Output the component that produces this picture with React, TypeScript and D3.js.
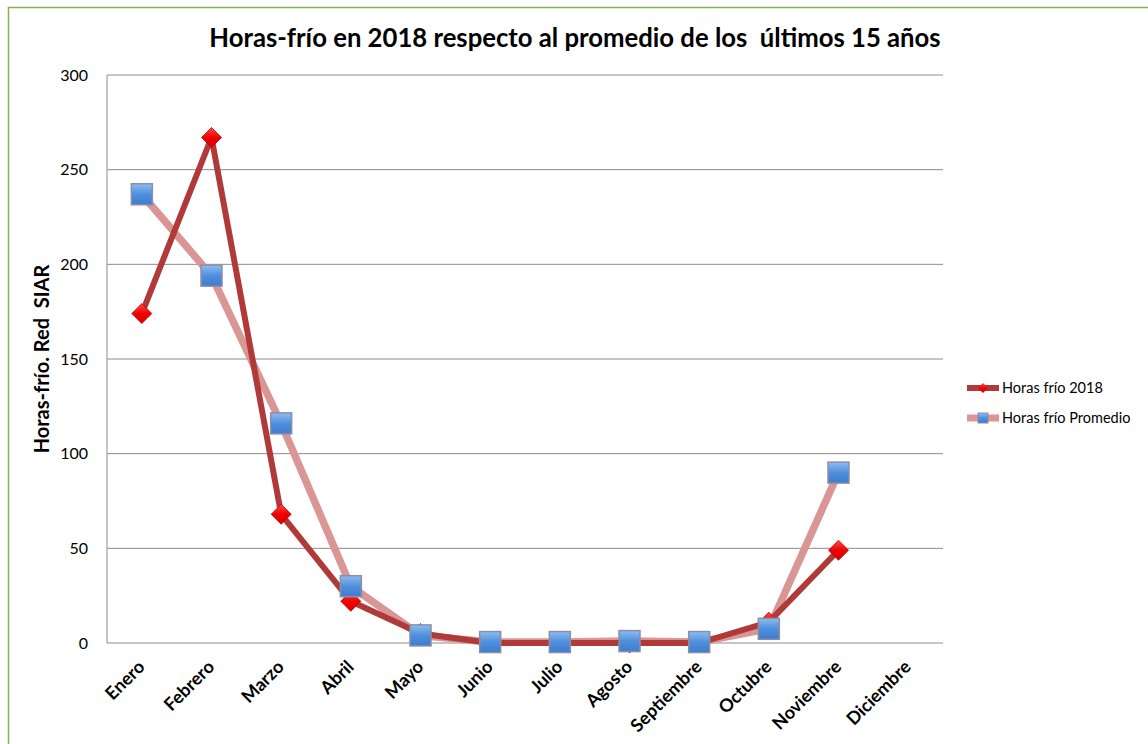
import React from 'react';
import * as d3 from 'd3';

const months = [
  'Enero', 'Febrero', 'Marzo', 'Abril', 'Mayo', 'Junio',
  'Julio', 'Agosto', 'Septiembre', 'Octubre', 'Noviembre', 'Diciembre',
];
// null = no value (Diciembre)
const horas2018: (number | null)[] = [174, 267, 68, 22, 5, 0, 0, 0, 0, 11, 49, null];
const horasPromedio: (number | null)[] = [237, 194, 116, 30, 4, 0.5, 0.5, 1, 0.5, 7.5, 90, null];
const yTicks = [0, 50, 100, 150, 200, 250, 300];

const font = "Lato, 'Open Sans', 'Liberation Sans', sans-serif";

const App: React.FC = () => {
  const width = 1148;
  const height = 744;
  const left = 107;
  const right = 943;
  const top = 75;
  const bottom = 643;

  const x = d3.scaleBand<string>().domain(months).range([left, right]);
  const y = d3.scaleLinear().domain([0, 300]).range([bottom, top]);
  const cx = (m: string) => (x(m) ?? 0) + x.bandwidth() / 2;

  const pts = (vals: (number | null)[]) =>
    vals
      .map((v, i) => ({ m: months[i], v }))
      .filter((d) => d.v !== null) as { m: string; v: number }[];

  const line = d3
    .line<{ m: string; v: number }>()
    .x((d) => cx(d.m))
    .y((d) => y(d.v));

  const p2018 = pts(horas2018);
  const pProm = pts(horasPromedio);

  const diamond = (s: number) => `M0,${-s} L${s},0 L0,${s} L${-s},0 Z`;

  return (
    <svg
      width={width}
      height={height}
      style={{ position: 'absolute', left: 0, top: 0, background: '#fff' }}
    >
      <defs>
        <linearGradient id="gBlue" x1="0" y1="0" x2="0" y2="1">
          <stop offset="0" stopColor="#8fbdf0" />
          <stop offset="0.5" stopColor="#4f8fdc" />
          <stop offset="1" stopColor="#3d7cd0" />
        </linearGradient>
        <linearGradient id="gRed" x1="0" y1="0" x2="0" y2="1">
          <stop offset="0" stopColor="#ff4a4a" />
          <stop offset="0.5" stopColor="#f20000" />
          <stop offset="1" stopColor="#d80000" />
        </linearGradient>
      </defs>

      {/* outer border */}
      <rect x={8.5} y={7.5} width={1150} height={750} fill="none" stroke="#8bb050" strokeWidth={1.5} />

      {/* title */}
      <text
        x={575}
        y={47}
        textAnchor="middle"
        fontFamily={font}
        fontWeight="bold"
        fontSize={25.7}
        fill="#000"
        style={{ whiteSpace: 'pre' }}
      >
        Horas-frío en 2018 respecto al promedio de los  últimos 15 años
      </text>

      {/* grid */}
      {yTicks.map((t) => (
        <g key={t}>
          <line x1={left} x2={right} y1={y(t)} y2={y(t)} stroke="#8c8c8c" strokeWidth={1} />
          <text
            x={88}
            y={y(t)}
            dy="0.35em"
            textAnchor="end"
            fontFamily={font}
            fontSize={16}
            fill="#000"
          >
            {t}
          </text>
        </g>
      ))}
      <line x1={left} x2={left} y1={top} y2={bottom} stroke="#8c8c8c" strokeWidth={1} />

      {/* y title */}
      <text
        transform={`translate(49,${(top + bottom) / 2}) rotate(-90)`}
        textAnchor="middle"
        fontFamily={font}
        fontWeight="bold"
        fontSize={20}
        fill="#000"
        style={{ whiteSpace: 'pre' }}
      >
        Horas-frío. Red  SIAR
      </text>

      {/* x labels */}
      {months.map((m) => (
        <text
          key={m}
          transform={`translate(${cx(m) + 4},${bottom + 25}) rotate(-45)`}
          textAnchor="end"
          fontFamily={font}
          fontWeight="bold"
          fontSize={18}
          fill="#000"
        >
          {m}
        </text>
      ))}

      {/* lines */}
      <path d={line(pProm) ?? ''} fill="none" stroke="#d99694" strokeWidth={7.5} strokeLinejoin="round" />
      <path d={line(p2018) ?? ''} fill="none" stroke="#b03a3a" strokeWidth={6} strokeLinejoin="round" />

      {/* markers */}
      {p2018.map((d) => (
        <path
          key={'d' + d.m}
          d={diamond(10)}
          transform={`translate(${cx(d.m)},${y(d.v)})`}
          fill="url(#gRed)"
          stroke="#c00000"
          strokeWidth={0.8}
        />
      ))}
      {pProm.map((d) => (
        <rect
          key={'s' + d.m}
          x={cx(d.m) - 10.5}
          y={y(d.v) - 10.5}
          width={21}
          height={21}
          fill="url(#gBlue)"
          stroke="#8a8fa8"
          strokeWidth={1.5}
        />
      ))}

      {/* legend */}
      <g fontFamily={font} fontSize={14.5} fill="#000">
        <line x1={967} x2={999} y1={388} y2={388} stroke="#b03a3a" strokeWidth={6} />
        <path d={diamond(5)} transform="translate(983,388)" fill="url(#gRed)" />
        <text x={1002} y={388} dy="0.35em">Horas frío 2018</text>
        <line x1={967} x2={999} y1={418} y2={418} stroke="#d99694" strokeWidth={7} />
        <rect x={978} y={413} width={10} height={10} fill="url(#gBlue)" stroke="#8a8fa8" strokeWidth={1} />
        <text x={1002} y={418} dy="0.35em">Horas frío Promedio</text>
      </g>
    </svg>
  );
};

export default App;
